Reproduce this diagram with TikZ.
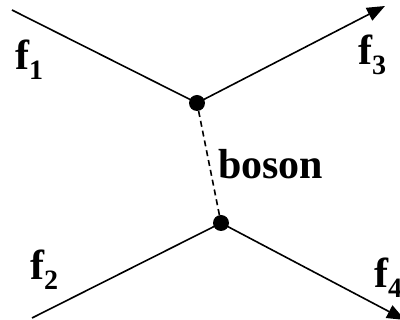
\documentclass[tikz,border=0pt]{standalone}
\usepackage{fontspec}
\setmainfont{Liberation Serif}
\usetikzlibrary{arrows.meta}
\tikzset{
  fermion/.style={line width=1.6pt},
  outgoing/.style={fermion, -{Triangle[length=18pt,width=14pt]}},
  vertexdot/.style={circle, fill=black, inner sep=0pt, minimum size=16pt},
  bosonline/.style={line width=1.6pt, dash pattern=on 6pt off 4pt},
  lbl/.style={inner sep=0pt, font=\fontsize{42}{42}\selectfont\bfseries},
}
\newcommand{\lblsub}[1]{\raisebox{-0.22em}{\fontsize{28}{28}\selectfont\bfseries #1}}
\begin{document}
\begin{tikzpicture}[x=1pt,y=-1pt]
  \useasboundingbox (0,0) rectangle (400,320);
  \clip (0,0) rectangle (400,320);
  \coordinate (in1) at (12,10);
  \coordinate (in2) at (32,318);
  \coordinate (out3) at (385,6);
  \coordinate (out4) at (405,320);
  \node[vertexdot] (v1) at (197,103) {};
  \node[vertexdot] (v2) at (221,223) {};
  \draw[fermion] (in1) -- (v1.center);
  \draw[outgoing] (v1.center) -- (out3);
  \draw[fermion] (in2) -- (v2.center);
  \draw[outgoing] (v2.center) -- (out4);
  \draw[bosonline] (v1) -- (v2);
  \node[lbl, anchor=base west] (f1) at (15,70) {f\lblsub{1}};
  \node[lbl, anchor=base west] (f3) at (358,65) {f\lblsub{3}};
  \node[lbl, anchor=base west] (f2) at (30,280) {f\lblsub{2}};
  \node[lbl, anchor=base west] (f4) at (374,288) {f\lblsub{4}};
  \node[lbl, anchor=base west] (boson) at (218,179) {boson};
\end{tikzpicture}
\end{document}
